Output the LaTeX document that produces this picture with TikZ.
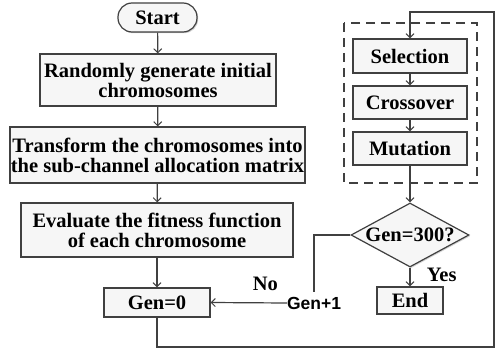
\documentclass[tikz,border=0pt]{standalone}
\usepackage{fontspec}
\setmainfont{Liberation Serif}
\setsansfont{Liberation Sans}
\usetikzlibrary{arrows.meta,shapes.geometric,shadows}
\tikzset{
    flowbox/.style={draw=black!75,line width=1.2pt,fill=gray!7,drop shadow={shadow xshift=1.2pt,shadow yshift=-1.2pt,fill=black!35},align=center,inner sep=0pt,font=\bfseries\fontsize{20.5}{20}\selectfont},
    terminal/.style={flowbox,rounded corners=14pt},
    decision/.style={flowbox,diamond,aspect=1.85,minimum width=118pt,minimum height=64pt},
    flow/.style={draw=black!75,line width=1.2pt,-{Straight Barb[length=4pt,width=8pt,line width=1pt]}},
    wire/.style={draw=black!75,line width=1.2pt},
    group/.style={draw=black!75,line width=1.2pt,dash pattern=on 9pt off 6pt},
    tag/.style={font=\bfseries\fontsize{20.5}{20}\selectfont}
}
\begin{document}
\begin{tikzpicture}[x=1pt,y=-1pt]
  \useasboundingbox (0,0) rectangle (495,350);

  % Initialisation column
  \node[terminal,minimum width=79pt,minimum height=29pt] at (157.5,17.5) (start) {Start};
  \node[flowbox,minimum width=236pt,minimum height=52pt] at (158,80) (init) {Randomly generate initial\\chromosomes};
  \node[flowbox,minimum width=295pt,minimum height=56pt] at (157.5,155) (trans) {Transform the chromosomes into\\the sub-channel allocation matrix};
  \node[flowbox,minimum width=272pt,minimum height=54pt] at (157,230) (eval) {Evaluate the fitness function\\of each chromosome};
  \node[flowbox,minimum width=106pt,minimum height=29pt] at (157,302.5) (gen0) {Gen=0};
  \draw[flow] (start) -- (init);
  \draw[flow] (init) -- (trans);
  \draw[flow] (trans) -- (eval);
  \draw[flow] (eval) -- (gen0);

  % Genetic operators
  \draw[group] (344,23) rectangle (477,183);
  \node[flowbox,minimum width=114pt,minimum height=34pt] at (410,56) (sel) {Selection};
  \node[flowbox,minimum width=114pt,minimum height=33pt] at (410,102.5) (cross) {Crossover};
  \node[flowbox,minimum width=114pt,minimum height=33pt] at (410,148.5) (mut) {Mutation};
  \draw[flow] (sel) -- (cross);
  \draw[flow] (cross) -- (mut);

  % Stop test
  \node[decision] at (410,235) (test) {Gen=300?};
  \node[flowbox,minimum width=66pt,minimum height=27pt] at (410,300.5) (end) {End};
  \draw[flow] (mut) -- (test);
  \draw[flow] (test) -- (end) node[tag,pos=0.4,right=13pt] {Yes};

  % Next generation
  \node[font=\sffamily\bfseries\fontsize{17.5}{18}\selectfont,inner xsep=0pt,inner ysep=5pt] at (314,303) (gen1) {Gen+1};
  \draw[wire] (test.west) -| (gen1.north);
  \draw[flow] (gen1.west) -- (gen0.east) node[tag,pos=0.28,above=8pt] {No};

  % Loop back
  \coordinate (lb) at (157,347);
  \coordinate (rb) at (494,347);
  \coordinate (rt) at (494,12);
  \coordinate (lt) at (410,12);
  \draw[flow] (gen0.south) -- (lb) -- (rb) -- (rt) -- (lt) -- (sel.north);
\end{tikzpicture}
\end{document}
